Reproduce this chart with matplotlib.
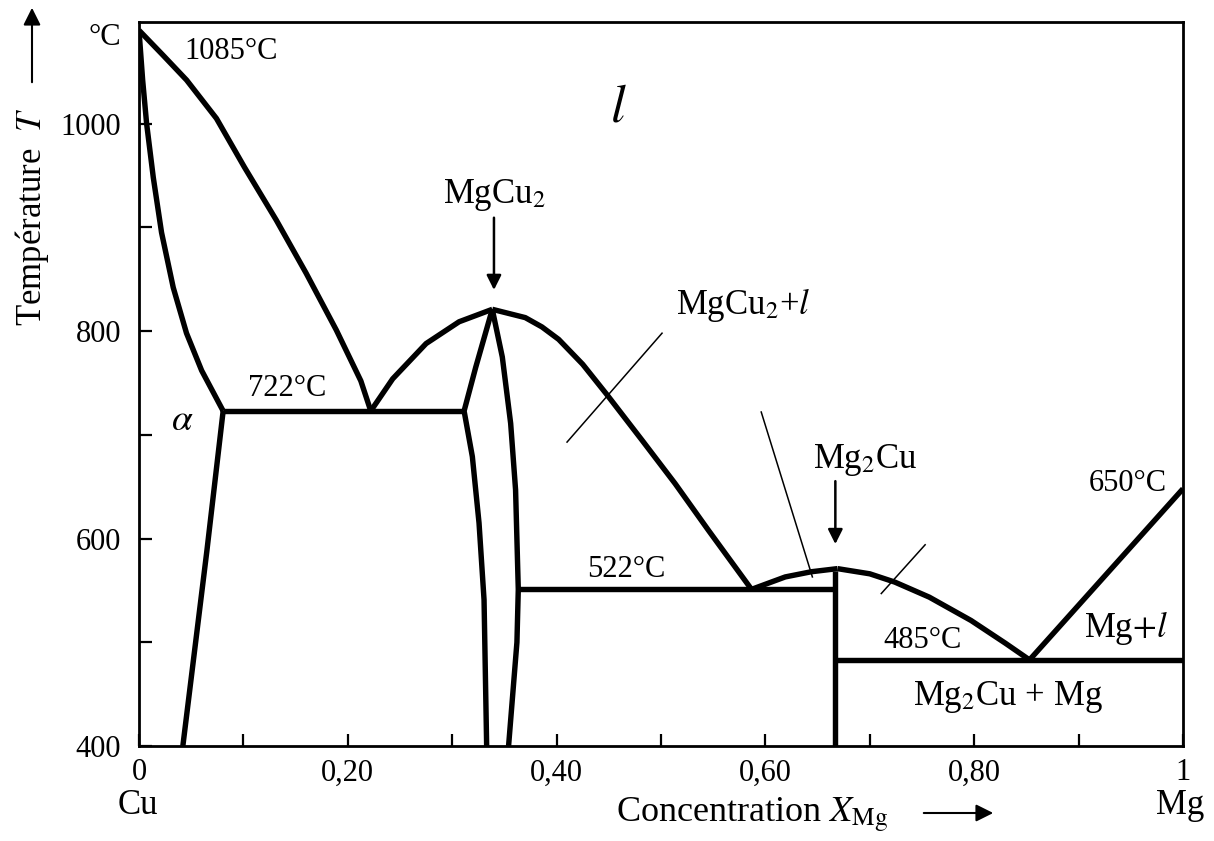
import numpy as np
import matplotlib
matplotlib.use('Agg')
import matplotlib.pyplot as plt

plt.rcParams['font.family'] = ['Liberation Serif', 'DejaVu Serif']
plt.rcParams['mathtext.fontset'] = 'stix'

# phase boundaries (x = mole fraction Mg, t = deg C)
liq_cu_x = [0.0, 0.023, 0.0456, 0.0742, 0.101, 0.1315, 0.160, 0.189, 0.2125, 0.222]
liq_cu_t = [1090, 1066, 1042, 1005, 958, 907, 856, 801, 752, 723]
sol_cu_x = [0.0, 0.0035, 0.0073, 0.0137, 0.0216, 0.0328, 0.0455, 0.060, 0.0806]
sol_cu_t = [1090, 1042, 1000, 948, 895, 842, 798, 762, 723]
solvus_x = [0.0806, 0.065, 0.042]
solvus_t = [723, 588, 400]
eut1_x = [0.0806, 0.3114]
eut1_t = [723, 723]

liq_mgcu2_l_x = [0.222, 0.243, 0.275, 0.3066, 0.3384]
liq_mgcu2_l_t = [723, 754, 788, 809, 821]
mgcu2_l_x = [0.3384, 0.3225, 0.3114, 0.3193, 0.3257, 0.3305, 0.333]
mgcu2_l_t = [821, 765, 723, 679, 615, 541, 400]
mgcu2_r_x = [0.3384, 0.348, 0.356, 0.3607, 0.3633, 0.362, 0.358, 0.354]
mgcu2_r_t = [821, 775, 711, 647, 551, 500, 450, 400]
liq_mgcu2_r_x = [0.3384, 0.370, 0.386, 0.402, 0.425, 0.448, 0.4817, 0.5135, 0.5454, 0.5867]
liq_mgcu2_r_t = [821, 813, 804, 792, 768, 739, 695, 653, 608, 551]
eut2_x = [0.3633, 0.667]
eut2_t = [551, 551]

liq_mg2cu_l_x = [0.5867, 0.619, 0.644, 0.669]
liq_mg2cu_l_t = [551, 563, 568, 571]
liq_mg2cu_r_x = [0.669, 0.700, 0.724, 0.757, 0.797, 0.830, 0.853]
liq_mg2cu_r_t = [571, 566, 558, 543.5, 521, 499, 483]
mg2cu_x = [0.667, 0.667]
mg2cu_t = [400, 569]
eut3_x = [0.667, 1.0]
eut3_t = [483, 483]
liq_mg_x = [0.853, 1.0]
liq_mg_t = [483, 648]

# thin leader lines
leaders = [([0.501, 0.410], [798, 693]),
           ([0.596, 0.645], [722, 563]),
           ([0.753, 0.711], [594, 547])]

xticks = np.arange(0, 1.01, 0.1)
xlabels = ['0', '', '0,20', '', '0,40', '', '0,60', '', '0,80', '', '1']
yticks = [400, 500, 600, 700, 800, 900, 1000]
ylabels = ['400', '', '600', '', '800', '', '1000']

fig = plt.figure(figsize=(12.14, 8.41), dpi=100)
ax = fig.add_axes([139/1214, 1-746/841, (1183-139)/1214, (746-22)/841])
ax.set_xlim(0, 1)
ax.set_ylim(400, 1098)

lw = 3.9
kw = dict(color='black', lw=lw, solid_joinstyle='round', solid_capstyle='butt')
for xs, ts in [(liq_cu_x, liq_cu_t), (sol_cu_x, sol_cu_t), (solvus_x, solvus_t),
               (eut1_x, eut1_t), (liq_mgcu2_l_x, liq_mgcu2_l_t), (mgcu2_l_x, mgcu2_l_t),
               (mgcu2_r_x, mgcu2_r_t), (liq_mgcu2_r_x, liq_mgcu2_r_t), (eut2_x, eut2_t),
               (liq_mg2cu_l_x, liq_mg2cu_l_t), (liq_mg2cu_r_x, liq_mg2cu_r_t),
               (mg2cu_x, mg2cu_t), (eut3_x, eut3_t), (liq_mg_x, liq_mg_t)]:
    ax.plot(xs, ts, **kw)
for xs, ts in leaders:
    ax.plot(xs, ts, color='black', lw=1.1)

for s in ax.spines.values():
    s.set_linewidth(2.0)
ax.set_xticks(xticks)
ax.set_xticklabels(xlabels)
ax.set_yticks(yticks)
ax.set_yticklabels(ylabels)
ax.tick_params(direction='in', length=9, width=1.6, labelsize=22)
ax.tick_params(axis='y', pad=13)
ax.tick_params(axis='x', pad=9)

fs = 22
ax.text(-0.017, 1083, '°C', ha='right', va='center', fontsize=fs, clip_on=False)
ax.text(0.088, 1070, '1085°C', ha='center', va='center', fontsize=fs)
ax.text(0.459, 1015, r'$l$', ha='center', va='center', fontsize=38)
ax.text(0.340, 931, r'MgCu$_2$', ha='center', va='center', fontsize=25)
ax.annotate('', xy=(0.340, 837), xytext=(0.340, 912),
            arrowprops=dict(arrowstyle='-|>', color='black', lw=1.8, mutation_scale=22))
ax.text(0.579, 825, r'MgCu$_2$+$l$', ha='center', va='center', fontsize=25)
ax.text(0.142, 745, '722°C', ha='center', va='center', fontsize=fs)
ax.text(0.041, 714, r'$\alpha$', ha='center', va='center', fontsize=27)
ax.text(0.467, 570, '522°C', ha='center', va='center', fontsize=fs)
ax.text(0.696, 676, r'Mg$_2$Cu', ha='center', va='center', fontsize=25)
ax.annotate('', xy=(0.667, 592), xytext=(0.667, 658),
            arrowprops=dict(arrowstyle='-|>', color='black', lw=1.8, mutation_scale=22))
ax.text(0.947, 653, '650°C', ha='center', va='center', fontsize=fs)
ax.text(0.751, 502, '485°C', ha='center', va='center', fontsize=fs)
ax.text(0.945, 514, r'Mg$+l$', ha='center', va='center', fontsize=25)
ax.text(0.832, 447, r'Mg$_2$Cu + Mg', ha='center', va='center', fontsize=25)

# axis titles with arrows
fig.text(138/1214, 1-805/841, 'Cu', ha='center', va='center', fontsize=25)
fig.text(1180/1214, 1-805/841, 'Mg', ha='center', va='center', fontsize=25)
fig.text(616/1214, 1-815/841, r'Concentration $X_{\mathrm{Mg}}$', ha='left', va='center', fontsize=26)
fig.patches.append(matplotlib.patches.FancyArrowPatch(
    (921/1214, 1-813/841), (996/1214, 1-813/841), transform=fig.transFigure,
    arrowstyle='-|>', mutation_scale=26, lw=1.5, color='black'))
fig.text(32/1214, 1-217/841, r'Température  $T$', rotation=90, ha='center', va='center', fontsize=25)
fig.patches.append(matplotlib.patches.FancyArrowPatch(
    (32/1214, 1-85/841), (32/1214, 1-5/841), transform=fig.transFigure,
    arrowstyle='-|>', mutation_scale=26, lw=1.5, color='black'))

fig.savefig('out.png', dpi=100)
